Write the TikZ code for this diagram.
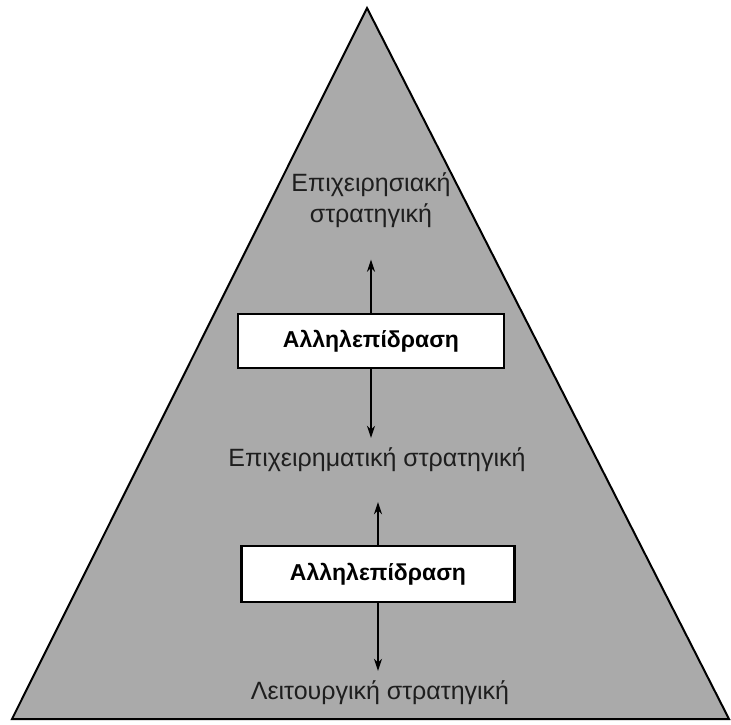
\documentclass[tikz,border=0pt]{standalone}
\usepackage{fontspec}
\setmainfont{Liberation Sans}
\usepackage{xcolor}
\usetikzlibrary{arrows.meta, positioning}
\definecolor{pyrgray}{RGB}{170, 170, 170}
\definecolor{pyrink}{RGB}{30, 30, 30}

\begin{document}
\begin{tikzpicture}[
  x=1pt, y=-1pt,
  pyramid/.style = {draw=black, line width=2pt, fill=pyrgray, line join=miter},
  inter/.style   = {rectangle, draw=black, line width=2.4pt, fill=white,
                    minimum width=266pt, minimum height=54pt, align=center,
                    font=\fontsize{23}{27}\selectfont\bfseries, text=black},
  level/.style   = {align=center, font=\fontsize{25}{31}\selectfont, text=pyrink,
                    inner sep=2pt},
  arrow/.style   = {-{Stealth[length=12pt, width=8pt]}, line width=1.3pt, color=black}
]

\useasboundingbox (0,0) rectangle (731,724);

% pyramid
\draw[pyramid] (367,8) -- (729,719) -- (12,719) -- cycle;

% levels and interaction boxes
\node[level] (corp)  at (371,200) {Επιχειρησιακή\\στρατηγική};
\node[inter] (int1)  at (371,341) {Αλληλεπίδραση};
\node[level] (bus)   at (377,460) {Επιχειρηματική στρατηγική};
\node[inter, minimum width=273pt, minimum height=56pt] (int2) at (378,574) {Αλληλεπίδραση};
\node[level] (func)  at (380,693) {Λειτουργική στρατηγική};

\draw[arrow, shorten >=30pt] (int1.north) -- (int1.north |- corp.south);
\draw[arrow, shorten >=8pt]  (int1.south) -- (int1.south |- bus.north);
\draw[arrow, shorten >=28pt] (int2.north) -- (int2.north |- bus.south);
\draw[arrow, shorten >=8pt]  (int2.south) -- (int2.south |- func.north);

\end{tikzpicture}
\end{document}
